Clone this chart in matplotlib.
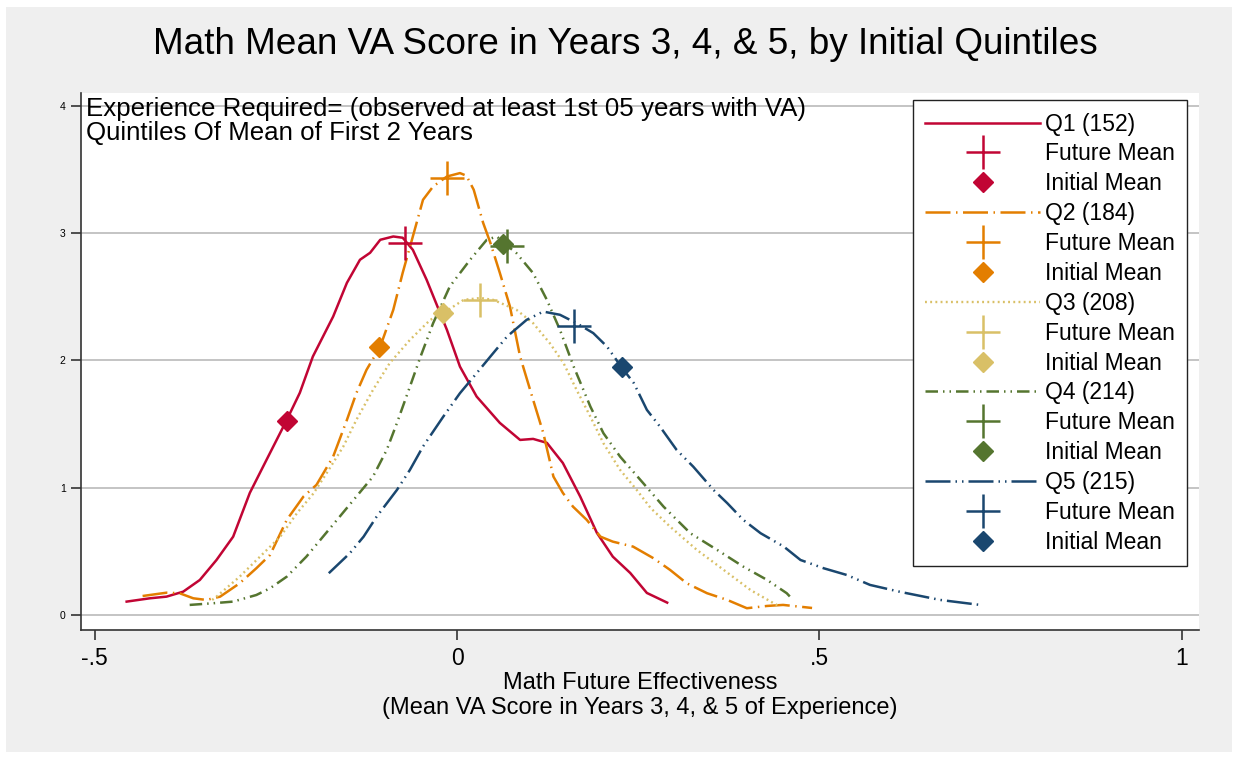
import matplotlib
matplotlib.use("Agg")
import matplotlib.pyplot as plt
from matplotlib.lines import Line2D
from matplotlib.patches import Rectangle

plt.rcParams['font.family'] = ['Liberation Sans', 'DejaVu Sans']

# --- data (kernel density curves per initial quintile) ---
q1_x = [-0.456, -0.424, -0.401, -0.378, -0.355, -0.332, -0.309, -0.286, -0.263, -0.235,
        -0.217, -0.199, -0.171, -0.152, -0.134, -0.120, -0.106, -0.088, -0.075, -0.061,
        -0.042, -0.014, 0.004, 0.027, 0.059, 0.087, 0.105, 0.124, 0.146, 0.170,
        0.193, 0.215, 0.239, 0.262, 0.290]
q1_y = [0.105, 0.131, 0.144, 0.183, 0.275, 0.432, 0.615, 0.959, 1.218, 1.532,
        1.745, 2.030, 2.344, 2.609, 2.790, 2.845, 2.947, 2.973, 2.963, 2.868,
        2.633, 2.240, 1.951, 1.716, 1.509, 1.375, 1.383, 1.352, 1.194, 0.930,
        0.645, 0.458, 0.330, 0.173, 0.097]

q2_x = [-0.434, -0.401, -0.383, -0.364, -0.346, -0.327, -0.300, -0.277, -0.258, -0.235,
        -0.212, -0.194, -0.171, -0.152, -0.139, -0.125, -0.106, -0.088, -0.075, -0.061,
        -0.047, -0.033, -0.014, 0.004, 0.013, 0.023, 0.036, 0.046, 0.059, 0.073,
        0.087, 0.105, 0.119, 0.133, 0.146, 0.160, 0.179, 0.198, 0.215, 0.243,
        0.271, 0.294, 0.317, 0.345, 0.373, 0.400, 0.428, 0.450, 0.490]
q2_y = [0.149, 0.175, 0.171, 0.131, 0.118, 0.144, 0.249, 0.367, 0.472, 0.747,
        0.930, 1.022, 1.244, 1.532, 1.742, 1.925, 2.108, 2.397, 2.688, 2.973,
        3.261, 3.366, 3.444, 3.471, 3.450, 3.340, 3.080, 2.923, 2.688, 2.423,
        2.030, 1.690, 1.430, 1.087, 0.959, 0.851, 0.747, 0.615, 0.576, 0.537,
        0.446, 0.354, 0.249, 0.171, 0.118, 0.053, 0.071, 0.079, 0.055]

q3_x = [-0.338, -0.332, -0.300, -0.272, -0.244, -0.221, -0.198, -0.180, -0.157, -0.139,
        -0.116, -0.093, -0.065, -0.037, -0.019, 0.009, 0.032, 0.050, 0.082, 0.105,
        0.128, 0.147, 0.165, 0.184, 0.202, 0.225, 0.248, 0.267, 0.294, 0.331,
        0.368, 0.405, 0.437, 0.446]
q3_y = [0.118, 0.144, 0.301, 0.458, 0.615, 0.799, 0.956, 1.114, 1.323, 1.532,
        1.768, 1.978, 2.161, 2.318, 2.371, 2.475, 2.490, 2.475, 2.397, 2.292,
        2.135, 1.978, 1.768, 1.558, 1.349, 1.140, 0.982, 0.841, 0.694, 0.511,
        0.354, 0.196, 0.092, 0.065]

q4_x = [-0.369, -0.337, -0.309, -0.277, -0.258, -0.235, -0.208, -0.185, -0.162, -0.139,
        -0.116, -0.097, -0.083, -0.065, -0.051, -0.033, -0.010, 0.018, 0.041, 0.055,
        0.066, 0.082, 0.105, 0.124, 0.142, 0.161, 0.184, 0.202, 0.225, 0.257,
        0.285, 0.322, 0.359, 0.395, 0.428, 0.455, 0.460]
q4_y = [0.079, 0.092, 0.105, 0.157, 0.210, 0.301, 0.458, 0.615, 0.772, 0.930,
        1.087, 1.297, 1.507, 1.794, 2.020, 2.292, 2.580, 2.790, 2.947, 2.973,
        2.915, 2.842, 2.685, 2.475, 2.240, 1.951, 1.637, 1.428, 1.244, 1.035,
        0.851, 0.642, 0.511, 0.380, 0.275, 0.171, 0.141]

q5_x = [-0.177, -0.148, -0.129, -0.111, -0.083, -0.065, -0.047, -0.019, 0.004, 0.027,
        0.046, 0.069, 0.096, 0.119, 0.142, 0.165, 0.188, 0.207, 0.227, 0.244,
        0.262, 0.280, 0.303, 0.326, 0.354, 0.373, 0.395, 0.419, 0.451, 0.474,
        0.506, 0.538, 0.570, 0.612, 0.667, 0.722]
q5_y = [0.328, 0.485, 0.615, 0.772, 0.982, 1.140, 1.323, 1.558, 1.742, 1.899,
        2.030, 2.187, 2.318, 2.383, 2.358, 2.292, 2.214, 2.108, 1.946, 1.821,
        1.611, 1.480, 1.297, 1.165, 0.982, 0.878, 0.747, 0.642, 0.537, 0.432,
        0.367, 0.314, 0.236, 0.181, 0.118, 0.079]

quintile_labels = ['Q1 (152)', 'Q2 (184)', 'Q3 (208)', 'Q4 (214)', 'Q5 (215)']
# future mean (+) and initial mean (diamond) markers, one per quintile
future_x = [-0.072, -0.014, 0.032, 0.069, 0.162]
future_y = [2.923, 3.434, 2.475, 2.900, 2.271]
initial_x = [-0.235, -0.108, -0.019, 0.064, 0.228]
initial_y = [1.525, 2.106, 2.373, 2.915, 1.949]

xticks = [-0.5, 0, 0.5, 1]
xtick_labels = ['-.5', '0', '.5', '1']
yticks = [0, 1, 2, 3, 4]

# --- styles ---
colors = ['#c10534', '#e37e00', '#d9c067', '#55752f', '#1a476f']
styles = ['-', (0, (10, 2.2, 0.6, 2.2)), (0, (0.8, 1.4)),
          (0, (5, 2, 0.6, 2, 0.6, 2)), (0, (10, 2, 0.6, 2, 0.6, 2))]
widths = [1.8, 1.8, 1.7, 1.8, 1.8]

curves_x = [q1_x, q2_x, q3_x, q4_x, q5_x]
curves_y = [q1_y, q2_y, q3_y, q4_y, q5_y]

W, H = 1235, 759
fig = plt.figure(figsize=(W / 100, H / 100), dpi=100, facecolor='white')
fig.patches.append(Rectangle((6 / W, 7 / H), 1226 / W, 745 / H, transform=fig.transFigure,
                             facecolor='#efefef', edgecolor='none', zorder=-10))

ax = fig.add_axes([81 / W, 1 - 630 / H, (1199 - 81) / W, (630 - 93) / H])
ax.set_facecolor('white')

handles, labels = [], []
for i in range(5):
    ln, = ax.plot(curves_x[i], curves_y[i], color=colors[i], linestyle=styles[i],
                  linewidth=widths[i], zorder=3)
    ax.plot([future_x[i]], [future_y[i]], marker='+', markersize=25, mew=1.8,
            color=colors[i], linestyle='none', zorder=5)
    ax.plot([initial_x[i]], [initial_y[i]], marker='D', markersize=10.5, mew=1,
            color=colors[i], linestyle='none', zorder=5)
    handles += [ln,
                Line2D([], [], marker='+', markersize=25, mew=1.8, color=colors[i], linestyle='none'),
                Line2D([], [], marker='D', markersize=10.5, mew=1, color=colors[i], linestyle='none')]
    labels += [quintile_labels[i], 'Future Mean', 'Initial Mean']

ax.set_xlim(-0.519, 1.024)
ax.set_ylim(-0.118, 4.10)
ax.set_xticks(xticks)
ax.set_xticklabels(xtick_labels, fontsize=16.5)
ax.set_yticks(yticks)
ax.set_yticklabels([str(v) for v in yticks], fontsize=7.5)
ax.tick_params(axis='both', direction='out', length=7, width=1.2, color='#333333')
ax.tick_params(axis='x', pad=5)
ax.tick_params(axis='y', pad=4)
ax.grid(axis='y', color='#c4c4c4', linewidth=1.4)
ax.set_axisbelow(True)
for side in ['top', 'right']:
    ax.spines[side].set_visible(False)
for side in ['left', 'bottom']:
    ax.spines[side].set_color('#333333')
    ax.spines[side].set_linewidth(1.2)

ax.set_xlabel('Math Future Effectiveness\n(Mean VA Score in Years 3, 4, & 5 of Experience)',
              fontsize=17, linespacing=1.15, labelpad=2)

fig.text(625 / W, 1 - 45 / H, 'Math Mean VA Score in Years 3, 4, & 5, by Initial Quintiles',
         fontsize=26.6, ha='center', va='center')
fig.text(86 / W, 1 - 97 / H,
         'Experience Required= (observed at least 1st 05 years with VA)\nQuintiles Of Mean of First 2 Years',
         fontsize=18.6, ha='left', va='top', linespacing=1.02)

leg = ax.legend(handles, labels, loc='upper right', bbox_to_anchor=(1187 / W, 1 - 100 / H),
                bbox_transform=fig.transFigure, borderaxespad=0, fontsize=16.5,
                handlelength=5.0, handletextpad=0.2, labelspacing=0.30, borderpad=0.55,
                fancybox=False, framealpha=1, edgecolor='#222222', numpoints=1)
leg.get_frame().set_linewidth(1.0)
leg.set_zorder(10)

fig.savefig('out.png', dpi=100, facecolor='white')
